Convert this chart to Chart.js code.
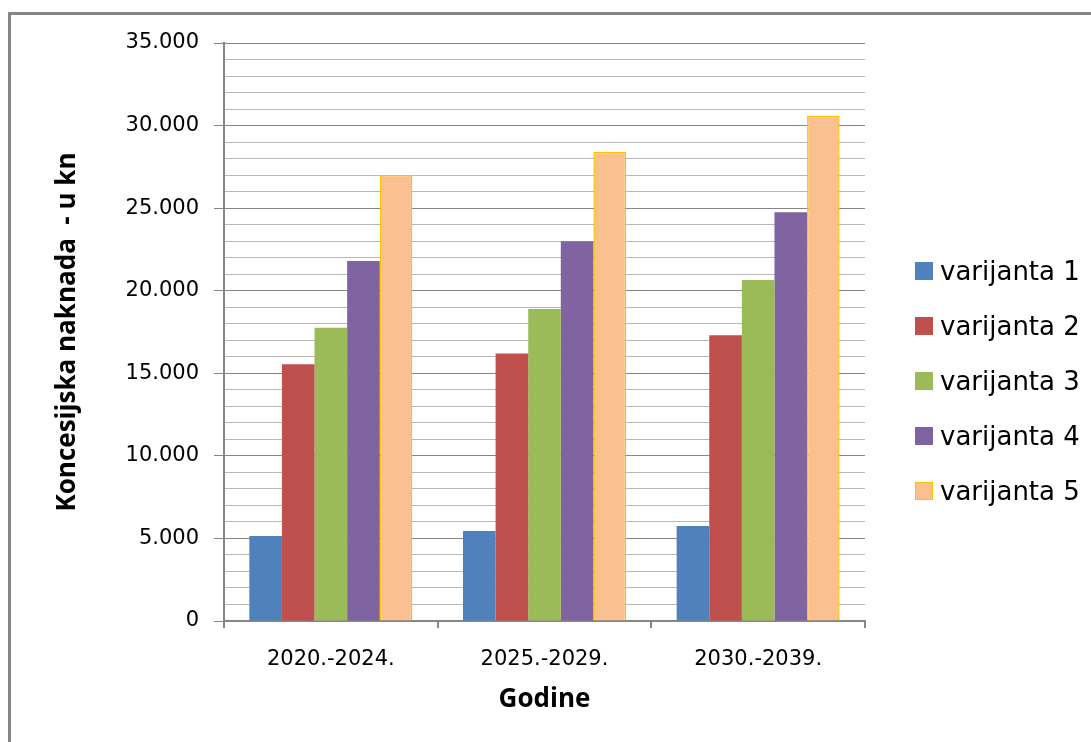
<!DOCTYPE html>
<html>
<head>
<meta charset="utf-8">
<script src="https://cdn.jsdelivr.net/npm/chart.js@4.4.0/dist/chart.umd.min.js"></script>
<style>
  html, body { margin:0; padding:0; background:#fff; }
  #wrap { position:relative; width:1091px; height:742px; overflow:hidden; }
  #frame { position:absolute; left:8px; top:12px; width:1200px; height:900px;
           border-left:3px solid #868686; border-top:3px solid #868686; pointer-events:none; }
  #legend { position:absolute; left:915px; top:243px; font-family:"DejaVu Sans", sans-serif; font-size:26px; color:#000; }
  .legend-item { display:flex; align-items:center; height:55px; }
  .legend-color { display:inline-block; width:18px; height:18px; margin-right:7px; box-sizing:border-box; }
</style>
</head>
<body>
<div id="wrap">
  <canvas id="chart" width="1091" height="742"></canvas>
  <div id="frame"></div>
  <div id="legend"></div>
</div>
<script>
// podaci
const periods = ["2020.-2024.", "2025.-2029.", "2030.-2039."];
const seriesNames = ["varijanta 1", "varijanta 2", "varijanta 3", "varijanta 4", "varijanta 5"];
const var1 = [5150, 5450, 5750];
const var2 = [15550, 16200, 17300];
const var3 = [17750, 18900, 20650];
const var4 = [21800, 23000, 24750];
const var5 = [27000, 28400, 30600];
const yTicksMajor = [0, 5000, 10000, 15000, 20000, 25000, 30000, 35000];

const fills   = ["#4F81BD", "#C0504D", "#9BBB59", "#8064A2", "#FAC090"];
const borders = ["#4F81BD", "#C0504D", "#9BBB59", "#8064A2", "#FFC000"];

const $ = id => document.getElementById(id);
const fmt = v => v === 0 ? "0" : String(v).replace(/\B(?=(\d{3})+(?!\d))/g, ".");
const isMajor = v => yTicksMajor.includes(v);

const datasets = [var1, var2, var3, var4, var5].map((vals, i) => ({
  label: seriesNames[i],
  data: vals,
  backgroundColor: fills[i],
  borderColor: borders[i],
  borderWidth: i === 4 ? 1.5 : 0,
  categoryPercentage: 0.763,
  barPercentage: 1.0
}));

const chart = new Chart($("chart").getContext("2d"), {
  type: "bar",
  data: { labels: periods, datasets },
  options: {
    responsive: false,
    animation: false,
    layout: { padding: { top: 43, right: 226, bottom: 0, left: 0 } },
    plugins: { legend: { display: false }, tooltip: { enabled: false } },
    scales: {
      x: {
        afterFit: s => { s.height = 121; },
        grid: { drawOnChartArea: false, tickLength: 7, color: "#868686", lineWidth: 2 },
        border: { color: "#868686", width: 2 },
        ticks: { color: "#000", padding: 19, font: { family: "DejaVu Sans", size: 21 } },
        title: {
          display: true, text: "Godine", color: "#000",
          font: { family: "Open Sans", weight: "bold", size: 26 },
          padding: { top: 0, bottom: 27 }
        }
      },
      y: {
        min: 0, max: 35000,
        afterFit: s => { s.width = 224; },
        grid: {
          tickLength: 10,
          color: c => isMajor(c.tick.value) ? "#868686" : "#B8B8B8",
          tickColor: c => isMajor(c.tick.value) ? "#868686" : "rgba(0,0,0,0)",
          lineWidth: 1
        },
        border: { color: "#868686", width: 2 },
        ticks: {
          stepSize: 1000, autoSkip: false, color: "#000", padding: 15,
          font: { family: "DejaVu Sans", size: 21 },
          callback: v => isMajor(v) ? fmt(v) : ""
        },
        title: {
          display: true, text: "Koncesijska naknada  - u kn", color: "#000",
          font: { family: "Open Sans", weight: "bold", size: 26 },
          padding: { top: 52, bottom: 0 }
        }
      }
    }
  }
});

// legenda
$("legend").innerHTML = chart.data.datasets.map(d => `
  <div class="legend-item">
    <span class="legend-color" style="background:${d.backgroundColor};border:${d.borderWidth ? "1.5px solid " + d.borderColor : "none"}"></span>
    <span>${d.label}</span>
  </div>`).join("");
</script>
</body>
</html>
